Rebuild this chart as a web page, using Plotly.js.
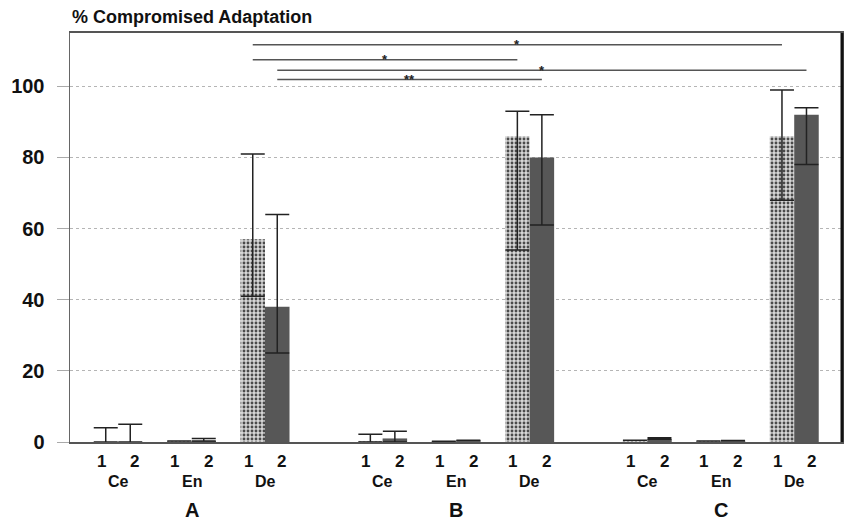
<!DOCTYPE html>
<html>
<head>
<meta charset="utf-8">
<script src="https://cdn.plot.ly/plotly-3.0.1.min.js"></script>
<style>html,body{margin:0;padding:0;background:#fff}#chart{width:845px;height:524px}</style>
</head>
<body>
<div id="chart"></div>
<script>
// ---- data ----
const panels = ["A", "B", "C"];
const sites = ["Ce", "En", "De"];
const seriesLabels = ["1", "2"];

// series 1 (stippled)
const s1Value = [0, 0.3, 57,   0.3, 0.2, 86,   0.5, 0.3, 86];
const s1Upper = [4, 0.3, 81,   2.2, 0.2, 93,   0.5, 0.3, 99];
const s1Lower = [0, 0.3, 41,   0,   0.2, 54,   0.5, 0.3, 68];
// series 2 (dark)
const s2Value = [0, 0.3, 38,   1,   0.5, 80,   0.8, 0.4, 92];
const s2Upper = [5, 1,   64,   3,   0.5, 92,   1.2, 0.4, 94];
const s2Lower = [0, 0.3, 25,   0,   0.5, 61,   0.8, 0.4, 78];

// significance comparisons (De bars): panel index and series index of each end
const cmpFromPanel = [0, 0, 0, 0];
const cmpFromSeries = [0, 0, 1, 1];
const cmpToPanel = [2, 1, 2, 1];
const cmpToSeries = [0, 0, 1, 1];
const cmpLevel = [111.7, 107.5, 104.5, 101.9];
const cmpMark = ["*", "*", "*", "**"];

// ---- layout helpers ----
const GROUP_STRIDE = 3.6;
const BAR_OFF = 0.1667;
const xs = [];
const cats = [];
panels.forEach((p, g) => sites.forEach((s, k) => { xs.push(g * GROUP_STRIDE + k); cats.push([g, k]); }));
const pos = (g, k) => g * GROUP_STRIDE + k;

const FONT = "Liberation Sans, Arial, Helvetica, sans-serif";

function errs(v, up, lo) {
  return {
    type: 'data', symmetric: false,
    array: up.map((u, i) => u - v[i]),
    arrayminus: lo.map((l, i) => v[i] - l),
    color: '#222', thickness: 1.5, width: 12
  };
}

const traces = [
  {
    type: 'bar', x: xs, y: s1Value, name: seriesLabels[0],
    marker: { color: '#d0d0d0', line: { width: 0 },
      pattern: { shape: '.', fgcolor: '#4a4a4a', bgcolor: '#d6d6d6', size: 4, solidity: 0.4 } },
    error_y: errs(s1Value, s1Upper, s1Lower), showlegend: false, hoverinfo: 'none'
  },
  {
    type: 'bar', x: xs, y: s2Value, name: seriesLabels[1],
    marker: { color: '#575757', line: { width: 0 } },
    error_y: errs(s2Value, s2Upper, s2Lower), showlegend: false, hoverinfo: 'none'
  }
];

const shapes = [];
const annotations = [];

// significance lines
cmpLevel.forEach((lv, i) => {
  const xa = pos(cmpFromPanel[i], 2) + (cmpFromSeries[i] === 0 ? -BAR_OFF : BAR_OFF);
  const xb = pos(cmpToPanel[i], 2) + (cmpToSeries[i] === 0 ? -BAR_OFF : BAR_OFF);
  shapes.push({ type: 'line', xref: 'x', yref: 'y', x0: xa, x1: xb, y0: lv, y1: lv,
    line: { color: '#555', width: 1.5 } });
  annotations.push({ xref: 'x', yref: 'y', x: (xa + xb) / 2, y: lv, text: cmpMark[i],
    showarrow: false, yanchor: 'middle', font: { family: FONT, size: 13, color: '#222', weight: 'bold' } });
});

// right border (thick)
shapes.push({ type: 'line', xref: 'paper', yref: 'paper', x0: 1, x1: 1, y0: 0, y1: 1,
  line: { color: '#111', width: 3 } });

// bottom labels
xs.forEach((x, i) => {
  seriesLabels.forEach((lab, j) => {
    annotations.push({ xref: 'x', yref: 'paper', x: x + (j === 0 ? -0.23 : 0.23), y: 0, yshift: -19,
      text: lab, showarrow: false, yanchor: 'middle', xanchor: 'center',
      font: { family: FONT, size: 17, color: '#111', weight: 'bold' } });
  });
  annotations.push({ xref: 'x', yref: 'paper', x: x, y: 0, yshift: -39,
    text: sites[cats[i][1]], showarrow: false, yanchor: 'middle', xanchor: 'center',
    font: { family: FONT, size: 16, color: '#111', weight: 'bold' } });
});
panels.forEach((p, g) => {
  annotations.push({ xref: 'x', yref: 'paper', x: pos(g, 1), y: 0, yshift: -81,
    text: p, showarrow: false, yanchor: 'bottom', xanchor: 'center',
    font: { family: FONT, size: 20, color: '#111', weight: 'bold' } });
});

const layout = {
  width: 845, height: 524,
  margin: { l: 70, r: 3, t: 33, b: 82 },
  paper_bgcolor: '#fff', plot_bgcolor: '#fff',
  barmode: 'group', bargap: 0.333, bargroupgap: 0,
  title: { text: '% Compromised Adaptation', x: 72 / 845, xanchor: 'left', xref: 'container',
    y: 1 - 17 / 524, yanchor: 'middle', yref: 'container',
    font: { family: FONT, size: 18, color: '#111', weight: 'bold' } },
  xaxis: { range: [-0.653, 9.85], showticklabels: false, ticks: '', showgrid: false, zeroline: false,
    showline: true, linecolor: '#555', linewidth: 2, mirror: true, fixedrange: true },
  yaxis: { range: [0, 115], tickvals: [0, 20, 40, 60, 80, 100], ticks: 'outside', ticklen: 12,
    tickcolor: '#aaa', tickwidth: 1, ticklabelstandoff: 8,
    tickfont: { family: FONT, size: 20, color: '#111', weight: 'bold' },
    showgrid: true, gridcolor: '#b5b5b5', griddash: 'dot', gridwidth: 1, zeroline: false,
    showline: true, linecolor: '#666', linewidth: 1.5, mirror: true, fixedrange: true },
  shapes: shapes, annotations: annotations, showlegend: false
};

Plotly.newPlot('chart', traces, layout, { staticPlot: true, displayModeBar: false });
</script>
</body>
</html>
